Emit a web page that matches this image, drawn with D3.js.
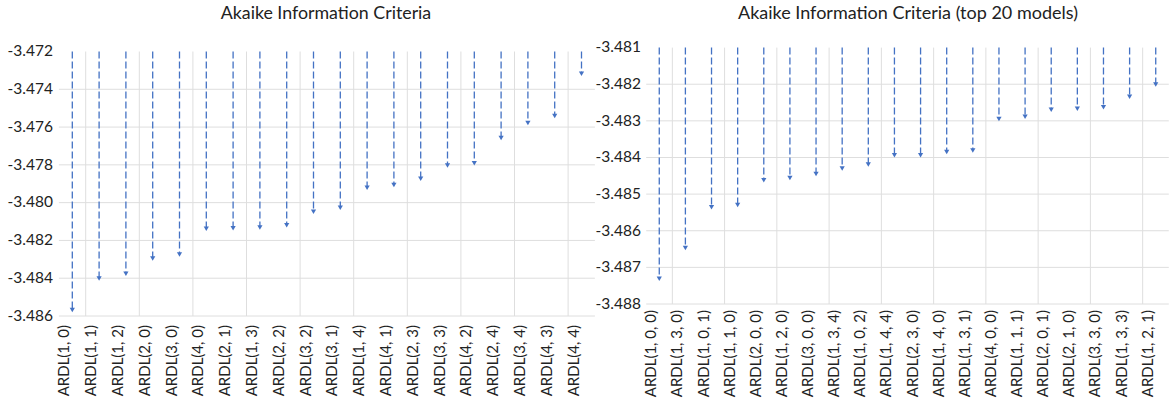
<!DOCTYPE html>
<html><head><meta charset="utf-8">
<script src="https://cdn.jsdelivr.net/npm/d3@7"></script>
<style>body{margin:0;background:#fff}svg{display:block}text{font-family:Lato,"Open Sans",sans-serif;fill:#222}</style>
</head><body><svg id="c" width="1169" height="404"></svg>
<script>
const leftTitle = "Akaike Information Criteria";
const leftCats = ["ARDL(1, 0)","ARDL(1, 1)","ARDL(1, 2)","ARDL(2, 0)","ARDL(3, 0)","ARDL(4, 0)","ARDL(2, 1)","ARDL(1, 3)","ARDL(2, 2)","ARDL(3, 2)","ARDL(3, 1)","ARDL(1, 4)","ARDL(4, 1)","ARDL(2, 3)","ARDL(3, 3)","ARDL(4, 2)","ARDL(2, 4)","ARDL(3, 4)","ARDL(4, 3)","ARDL(4, 4)"];
const leftVals = [-3.4858,-3.48413,-3.48388,-3.48308,-3.48286,-3.4815,-3.48148,-3.48144,-3.48132,-3.4806,-3.48039,-3.47933,-3.47919,-3.47885,-3.47815,-3.47804,-3.4767,-3.4759,-3.47553,-3.4733];
const leftTicks = [-3.472,-3.474,-3.476,-3.478,-3.480,-3.482,-3.484,-3.486];

const rightTitle = "Akaike Information Criteria (top 20 models)";
const rightCats = ["ARDL(1, 0, 0)","ARDL(1, 3, 0)","ARDL(1, 0, 1)","ARDL(1, 1, 0)","ARDL(2, 0, 0)","ARDL(1, 2, 0)","ARDL(3, 0, 0)","ARDL(1, 3, 4)","ARDL(1, 0, 2)","ARDL(1, 4, 4)","ARDL(2, 3, 0)","ARDL(1, 4, 0)","ARDL(1, 3, 1)","ARDL(4, 0, 0)","ARDL(1, 1, 1)","ARDL(2, 0, 1)","ARDL(2, 1, 0)","ARDL(3, 3, 0)","ARDL(1, 3, 3)","ARDL(1, 2, 1)"];
const rightVals = [-3.48737,-3.48653,-3.48542,-3.48536,-3.48468,-3.48462,-3.48451,-3.48436,-3.48425,-3.4840,-3.4840,-3.48391,-3.48387,-3.48301,-3.48295,-3.48276,-3.48273,-3.48269,-3.4824,-3.48207];
const rightTicks = [-3.481,-3.482,-3.483,-3.484,-3.485,-3.486,-3.487,-3.488];

const svg = d3.select("#c");
const color = "#4472C4", grid = "#dedede";

function panel(cfg){
  const g = svg.append("g");
  const x = d3.scaleBand().domain(cfg.cats).range([cfg.x0, cfg.x1]).padding(0);
  const y = d3.scaleLinear().domain([d3.min(cfg.ticks), d3.max(cfg.ticks)]).range([cfg.y1, cfg.y0]);
  const bw = x.bandwidth();
  g.selectAll("line.h").data(cfg.ticks.filter(t => t !== d3.max(cfg.ticks))).join("line")
    .attr("x1", cfg.x0).attr("x2", cfg.x1).attr("y1", d => y(d)).attr("y2", d => y(d))
    .attr("stroke", grid).attr("stroke-width", 1);
  const bounds = cfg.cats.map((c,i) => i).filter(i => i % 2 === 1);
  g.selectAll("line.v").data(bounds).join("line")
    .attr("x1", i => x(cfg.cats[i])).attr("x2", i => x(cfg.cats[i]))
    .attr("y1", cfg.y0).attr("y2", cfg.y1)
    .attr("stroke", grid).attr("stroke-width", 1);
  const yAxis = d3.axisLeft(y).tickValues(cfg.ticks).tickSize(0).tickPadding(0);
  const ya = g.append("g").attr("transform", `translate(${cfg.labelX},0)`).call(yAxis);
  ya.select(".domain").remove();
  ya.selectAll("text").attr("font-size", 15.5).attr("font-family", "Lato").attr("fill", "#222").attr("dy", "0.28em")
    .text(d => d3.format(".3f")(d).replace("−","-"));
  const xAxis = d3.axisBottom(x).tickSize(0).tickPadding(0);
  const xa = g.append("g").attr("transform", `translate(0,${cfg.y1})`).call(xAxis);
  xa.select(".domain").remove();
  xa.selectAll("text").attr("font-size", 15).attr("font-family", "Lato").attr("fill", "#222")
    .attr("text-anchor", "end").attr("dy", null)
    .attr("transform", `translate(-3,${cfg.labGap}) rotate(-90)`).attr("x", 0).attr("y", 0);
  const data = cfg.cats.map((c,i) => ({c, v: cfg.vals[i]}));
  g.selectAll("line.s").data(data).join("line")
    .attr("x1", d => x(d.c) + bw/2).attr("x2", d => x(d.c) + bw/2)
    .attr("y1", cfg.y0).attr("y2", d => y(d.v) - 3)
    .attr("stroke", color).attr("stroke-width", 1.3).attr("stroke-dasharray", "7,3");
  g.selectAll("path.a").data(data).join("path")
    .attr("d", d => { const cx = x(d.c) + bw/2, cy = y(d.v); return `M${cx-2.6},${cy-4.5}L${cx+2.6},${cy-4.5}L${cx},${cy}Z`; })
    .attr("fill", color);
  g.append("text").attr("x", cfg.titleX).attr("y", 19).attr("text-anchor", "middle")
    .attr("font-size", cfg.titleSize).attr("font-family", "Lato").attr("fill", "#222").text(cfg.title);
}

panel({cats: leftCats, vals: leftVals, ticks: leftTicks, x0: 58.9, x1: 594.9, y0: 51.5, y1: 316,
  labelX: 53, labGap: 9, title: leftTitle, titleX: 326, titleSize: 17.8});
panel({cats: rightCats, vals: rightVals, ticks: rightTicks, x0: 646.2, x1: 1168.8, y0: 47.6, y1: 304,
  labelX: 641, labGap: 6, title: rightTitle, titleX: 908, titleSize: 18});
</script></body></html>
